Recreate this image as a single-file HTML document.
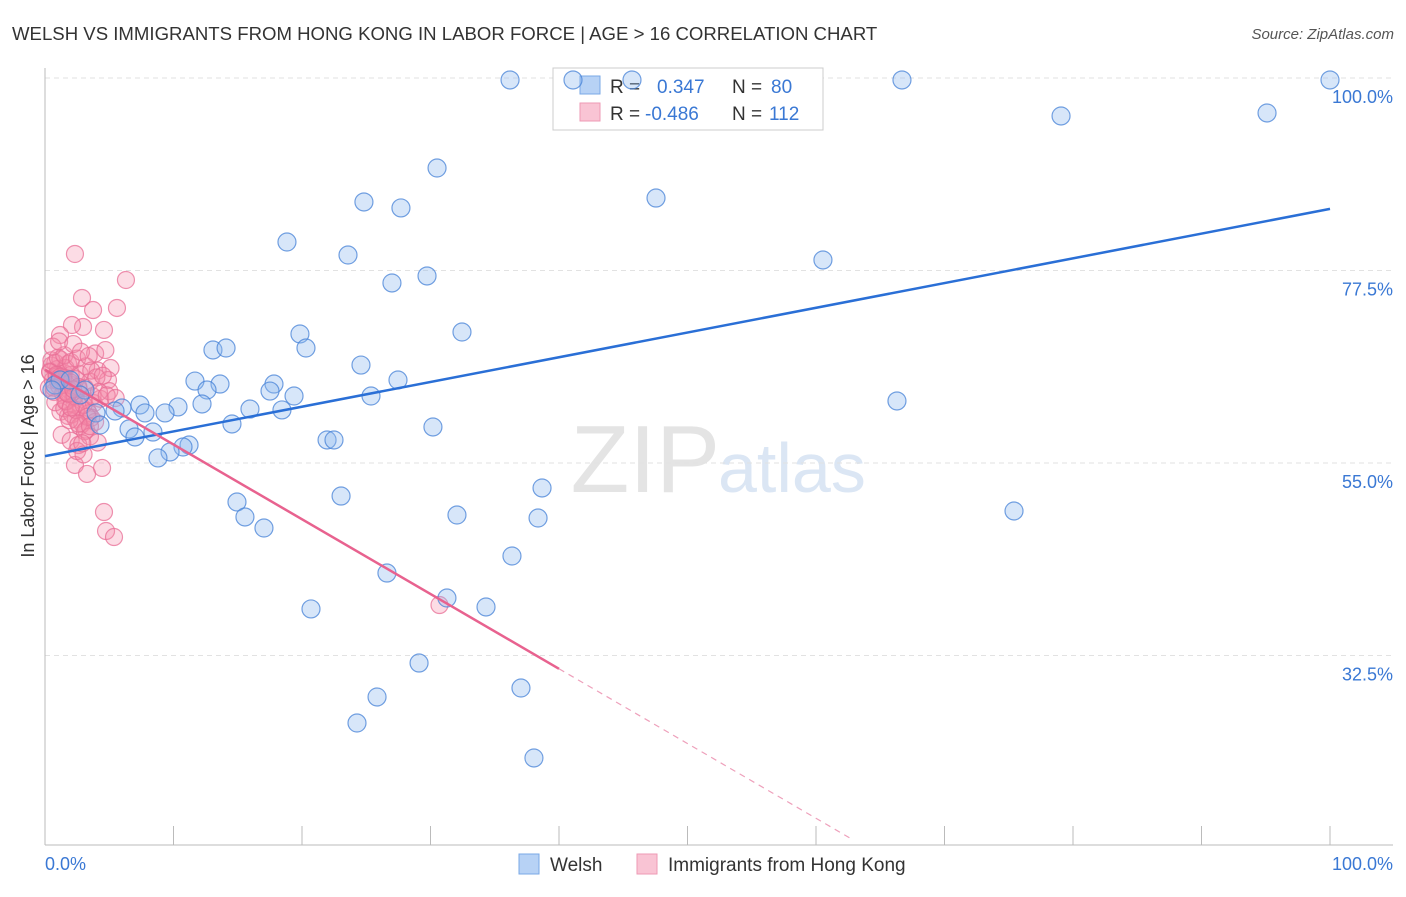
<!DOCTYPE html>
<html><head><meta charset="utf-8"><style>
body{margin:0;background:#fff;font-family:"Liberation Sans",sans-serif}
svg text{font-family:"Liberation Sans",sans-serif}
</style></head><body>
<svg id="chart" width="1406" height="892" xmlns="http://www.w3.org/2000/svg">
<text x="12" y="40" font-size="18.6" fill="#333">WELSH VS IMMIGRANTS FROM HONG KONG IN LABOR FORCE | AGE &gt; 16 CORRELATION CHART</text>
<text x="1394" y="39" font-size="15" fill="#555" text-anchor="end" font-style="italic">Source: ZipAtlas.com</text>
<text x="720" y="492" font-size="96" fill="#e4e4e4" text-anchor="end" font-family="Liberation Serif">ZIP</text>
<text x="718" y="492" font-size="70" fill="#dbe6f4">atlas</text>
<g id="grid"></g><g id="axes"></g>
<g>
<rect x="553" y="68" width="270" height="62" fill="#fff" stroke="#ccc"/>
<rect x="580" y="76" width="20" height="18" fill="#b7d2f5" stroke="#7aa8e6"/>
<rect x="580" y="103" width="20" height="18" fill="#f9c4d4" stroke="#ee9ab4"/>
<text x="610" y="93" font-size="19" fill="#333">R =</text><text x="657" y="93" font-size="19" fill="#3a78d4">0.347</text>
<text x="732" y="93" font-size="19" fill="#333">N =</text><text x="771" y="93" font-size="19" fill="#3a78d4">80</text>
<text x="610" y="120" font-size="19" fill="#333">R =</text><text x="645" y="120" font-size="19" fill="#3a78d4">-0.486</text>
<text x="732" y="120" font-size="19" fill="#333">N =</text><text x="769" y="120" font-size="19" fill="#3a78d4">112</text>
</g>
<g id="pink"></g><g id="blue"></g><g id="lines"></g>
<text x="34" y="456" font-size="18" fill="#333" text-anchor="middle" transform="rotate(-90 34 456)">In Labor Force | Age &gt; 16</text>
<text x="45" y="870" font-size="18" fill="#3a78d4">0.0%</text>
<text x="1393" y="870" font-size="18" fill="#3a78d4" text-anchor="end">100.0%</text>
<g>
<rect x="519" y="854" width="20" height="20" fill="#b7d2f5" stroke="#7aa8e6"/>
<text x="550" y="871" font-size="19" fill="#333">Welsh</text>
<rect x="637" y="854" width="20" height="20" fill="#f9c4d4" stroke="#ee9ab4"/>
<text x="668" y="871" font-size="19" fill="#333">Immigrants from Hong Kong</text>
</g>
</svg>
<script>
const yTicks=[100,77.5,55,32.5];
const yTickLabels=["100.0%","77.5%","55.0%","32.5%"];
const xTicks=[0,10,20,30,40,50,60,70,80,90,100];
const blueX=[36.19,41.09,45.68,66.69,100,79.07,95.1,30.51,47.55,24.82,27.7,18.83,23.58,60.54,29.73,27.0,32.45,19.84,20.31,13.07,14.09,24.59,27.47,11.67,13.62,12.61,17.82,17.51,19.38,25.37,66.3,12.22,10.35,15.95,18.44,7.39,5.99,5.45,3.97,7.78,9.34,4.28,6.54,8.4,7.0,14.55,30.19,21.95,22.49,11.21,10.74,9.73,8.79,38.68,23.04,14.94,32.06,38.37,75.41,15.56,17.04,36.34,26.61,31.28,34.32,20.7,29.11,25.84,37.04,24.28,38.05,0.78,1.17,0.54,1.95,3.11,2.72];
const blueY=[99.77,99.77,99.77,99.77,99.77,95.56,95.91,89.48,85.97,85.51,84.81,80.83,79.31,78.73,76.86,76.04,70.31,70.08,68.44,68.21,68.44,66.45,64.7,64.58,64.23,63.53,64.23,63.41,62.83,62.83,62.25,61.9,61.55,61.31,61.2,61.78,61.43,61.08,60.85,60.85,60.85,59.44,58.98,58.62,58.04,59.56,59.21,57.69,57.69,57.1,56.87,56.29,55.59,52.08,51.14,50.44,48.92,48.57,49.39,48.69,47.4,44.13,42.14,39.22,38.17,37.94,31.62,27.65,28.7,24.61,20.52,64.12,64.7,63.53,64.7,63.53,62.95];
const pinkX=[2.33,6.3,2.88,5.6,3.74,2.96,4.59,2.1,1.17,3.9,4.7,4.1,5.1,4.9,3.5,2.33,4.44,3.1,4.59,4.75,5.37,0.5,0.8,1.0,1.2,1.5,1.8,2.0,0.4,0.6,0.9,1.3,1.6,2.1,2.4,2.7,0.3,0.7,1.1,1.4,1.9,2.2,2.6,3.0,0.5,1.0,1.5,2.0,2.5,3.2,3.6,4.0,1.7,2.3,2.8,3.3,3.8,4.3,1.2,1.8,2.4,2.9,3.4,0.8,1.5,2.1,2.7,3.2,3.9,1.3,2.0,2.6,3.1,3.5,4.1,1.9,2.5,3.0,0.6,1.1,2.2,2.8,3.4,4.5,5.0,1.6,2.4,3.6,1.0,1.7,2.3,3.0,3.7,0.4,0.9,1.4,2.0,2.6,4.2,4.8,5.5,3.3,1.2,2.6,2.0,3.5,2.9,1.8,2.2,0.7,30.7,3.27];
const pinkY=[79.43,76.39,74.29,73.12,72.88,70.9,70.55,71.13,69.96,67.8,68.2,65.8,66.1,64.7,64.5,54.77,54.42,63.8,49.27,47.05,46.35,66.4,66.7,66.0,67.1,65.5,66.6,65.3,65.7,64.7,65.1,64.3,66.1,64.1,64.8,65.4,63.8,63.3,64.0,63.1,63.5,62.7,63.7,62.4,67.0,67.3,67.6,66.8,67.2,66.3,65.8,65.0,62.2,61.8,61.6,61.1,62.0,62.5,61.0,60.5,60.1,59.6,60.8,62.1,61.4,60.7,59.3,58.9,59.8,58.3,57.6,57.1,58.7,58.1,57.4,60.0,56.4,56.0,68.6,69.2,68.9,68.0,67.5,65.2,63.4,62.2,61.2,60.3,64.6,63.2,62.8,61.8,62.8,65.6,65.3,64.9,64.4,63.9,63.3,62.9,62.6,60.4,65.1,59.6,61.5,59.3,57.3,63.1,63.6,63.8,38.4,53.72];
const blueTrend=[55.8,84.7];
const pinkTrend=[65.9,11.2];
const pinkSolidEnd=40;

const X0=45,X1=1330,Yt=78;
const sx=v=>X0+(X1-X0)*v/100;
const sy=v=>Yt+(100-v)*192.5/22.5;
const NS="http://www.w3.org/2000/svg";
function mk(t,a,p){const e=document.createElementNS(NS,t);for(const k in a)e.setAttribute(k,a[k]);document.getElementById(p).appendChild(e);return e;}
yTicks.forEach((t,i)=>{
 const g=mk('line',{x1:45,x2:1393,y1:sy(t),y2:sy(t),stroke:'#e2e2e2','stroke-dasharray':'5,4'},'grid');
 
 
 const l=mk('text',{x:1393,y:sy(t)+25,'font-size':18,fill:'#3a78d4','text-anchor':'end'},'grid');
 l.textContent=yTickLabels[i];
 
 
});
const ya=mk('line',{x1:45,x2:45,y1:68,y2:845,stroke:'#bbb'},'axes');


const xa=mk('line',{x1:45,x2:1393,y1:845,y2:845,stroke:'#bbb'},'axes');


xTicks.forEach(t=>{
 const k=mk('line',{x1:sx(t),x2:sx(t),y1:826,y2:845,stroke:'#bbb'},'axes');
 
 
});
pinkX.forEach((v,i)=>{
 const c=mk('circle',{cx:sx(v),cy:sy(pinkY[i]),r:8.5,fill:'rgba(244,140,170,0.3)',stroke:'rgba(232,110,150,0.75)','stroke-width':1.2},'pink');
 
 
});
blueX.forEach((v,i)=>{
 const c=mk('circle',{cx:sx(v),cy:sy(blueY[i]),r:9,fill:'rgba(140,182,238,0.35)',stroke:'rgba(70,130,215,0.75)','stroke-width':1.2},'blue');
 
 
});
const bl=mk('line',{x1:sx(0),y1:sy(blueTrend[0]),x2:sx(100),y2:sy(blueTrend[1]),stroke:'#2a6fd6','stroke-width':2.5},'lines');


const pv=x=>pinkTrend[0]+(pinkTrend[1]-pinkTrend[0])*x/62.6;
const pl=mk('line',{x1:sx(0),y1:sy(pv(0)),x2:sx(pinkSolidEnd),y2:sy(pv(pinkSolidEnd)),stroke:'#e8628f','stroke-width':2.5},'lines');


const pd=mk('line',{x1:sx(pinkSolidEnd),y1:sy(pv(pinkSolidEnd)),x2:sx(62.6),y2:sy(pv(62.6)),stroke:'#eea0bb','stroke-width':1.2,'stroke-dasharray':'6,5'},'lines');


</script>
</body></html>
